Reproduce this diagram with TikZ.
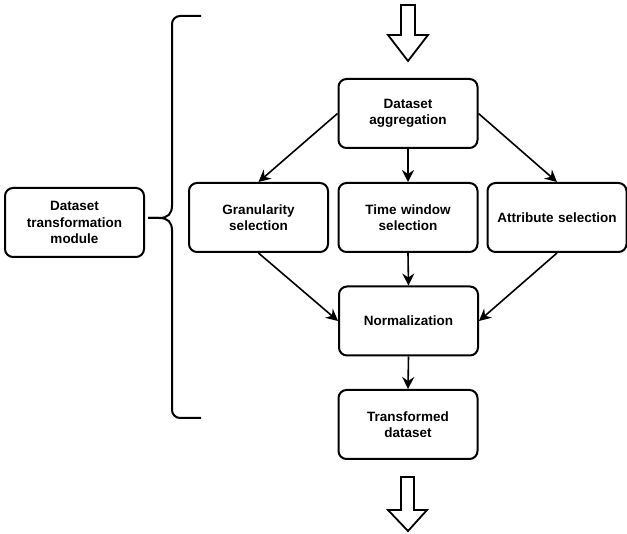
\documentclass[tikz,border=0pt]{standalone}
\usepackage{fontspec}
\setmainfont{Liberation Sans}
\usetikzlibrary{arrows.meta}
\begin{document}
\begin{tikzpicture}[x=1pt,y=-1pt,
  blk/.style={draw,line width=2pt,rounded corners=8pt,minimum width=139pt,minimum height=69pt,
    align=center,text width=128pt,inner sep=0pt,font=\fontsize{13.5}{16.5}\selectfont\bfseries},
  flow/.style={line width=1.6pt,-{Stealth[length=12pt,width=12pt,inset=4pt]}},
  hollow/.style={line width=1.8pt,line join=miter},
  brace/.style={line width=2pt}]
\useasboundingbox (0,0) rectangle (627,534);

\node[blk] (agg) at (408,113.5) {Dataset\\aggregation};
\node[blk] (gran) at (258.5,217.5) {Granularity\\selection};
\node[blk] (time) at (408,217.5) {Time window\\selection};
\node[blk] (attr) at (557,217.5) {Attribute selection};
\node[blk] (norm) at (408.5,321) {Normalization};
\node[blk] (trans) at (408,424.5) {Transformed\\dataset};
\node[blk] (mod) at (74.5,222.5) {Dataset\\transformation\\module};

\draw[flow] (agg.south) -- (time.north);
\draw[flow] (agg.west) -- (gran.north);
\draw[flow] (agg.east) -- (attr.north);
\draw[flow] (gran.south) -- (norm.west);
\draw[flow] (time.south) -- (norm.north);
\draw[flow] (attr.south) -- (norm.east);
\draw[flow] (norm.south) -- (trans.north);

% curly brace round the module steps
\draw[brace,rounded corners=8pt] (201,16) -- (172,16) -- (172,206);
\draw[brace] (172,205) .. controls (172,214) and (168,218) .. (159,218) -- (148,218);
\draw[brace] (148,218) -- (159,218) .. controls (168,218) and (172,222) .. (172,231);
\draw[brace,rounded corners=8pt] (172,230) -- (172,418) -- (201,418);

% in and out arrows
\draw[hollow] (401,5) -- (415,5) -- (415,35) -- (428,35) -- (408,61) -- (388,35) -- (401,35) -- cycle;
\draw[hollow] (401,477) -- (414,477) -- (414,510) -- (427,510) -- (408,531) -- (388,510) -- (401,510) -- cycle;
\end{tikzpicture}
\end{document}
